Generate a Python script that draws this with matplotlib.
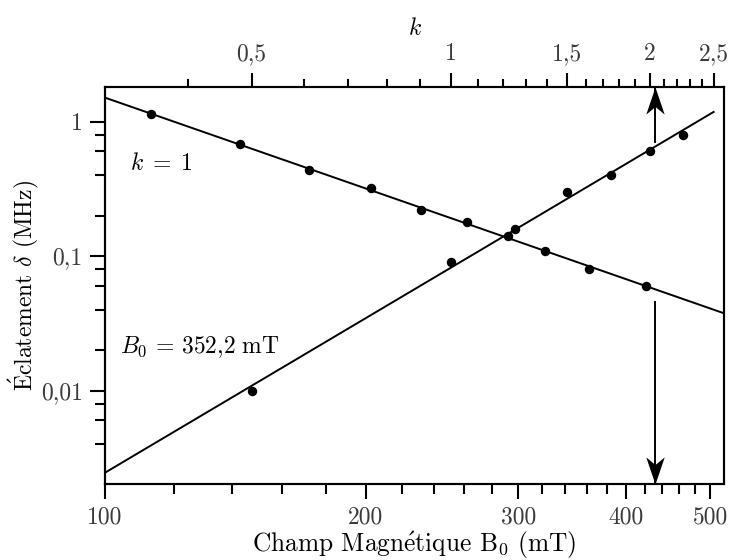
import numpy as np
import matplotlib
matplotlib.use("Agg")
import matplotlib.pyplot as plt
from matplotlib.path import Path
from matplotlib.ticker import FixedLocator, FixedFormatter, NullFormatter

plt.rcParams['font.family'] = ['cmr10', 'DejaVu Serif']
plt.rcParams['mathtext.fontset'] = 'cm'
plt.rcParams['axes.unicode_minus'] = False

# --- data: splitting vs field at k = 1 (bottom axis)
B_k1 = [113, 143, 172, 203, 232, 262, 292, 322, 362, 422]
delta_k1 = [1.13, 0.68, 0.44, 0.32, 0.22, 0.18, 0.14, 0.11, 0.08, 0.06]
# --- data: splitting vs k at B0 = 352.2 mT (top axis)
k_B = [0.5, 1.0, 1.25, 1.5, 1.75, 2.0, 2.25]
delta_B = [0.010, 0.090, 0.16, 0.30, 0.40, 0.60, 0.80]

# axis ranges and ticks
B_lim = (100, 518.6)
k_lim = (0.30, 2.592)
d_lim = (0.00202, 1.80)
B_ticks = [100, 200, 300, 400, 500]
B_ticklabels = ['100', '200', '300', '400', '500']
B_minor = [120, 140, 160, 180, 220, 240, 260, 280, 320, 340, 360, 380, 420, 440, 460, 480, 520]
k_ticks = [0.5, 1, 1.5, 2, 2.5]
k_ticklabels = ['0,5', '1', '1,5', '2', '2,5']
k_minor = [0.4, 0.6, 0.7, 0.8, 0.9, 1.1, 1.2, 1.3, 1.4, 1.6, 1.7, 1.8, 1.9, 2.1, 2.2, 2.3, 2.4]
d_ticks = [0.01, 0.1, 1]
d_ticklabels = ['0,01', '0,1', '1']
d_minor = [0.004, 0.006, 0.008, 0.02, 0.04, 0.06, 0.08, 0.2, 0.4, 0.6, 0.8]

B_arrow = 431.5
arrow_up_start = 0.71
arrow_down_start = 0.0459

fig = plt.figure(figsize=(7.32, 5.60), dpi=100)
ax = fig.add_axes([105/732, 1 - 484/560, 619/732, 396.7/560])
axt = ax.twiny()

lw_sp = 1.5
tick_col = '#3a3a3a'
fs = 17

# fits (log-log linear regression)
pB = np.polyfit(np.log10(B_k1), np.log10(delta_k1), 1)
Bf = np.geomspace(B_lim[0], B_lim[1], 50)
ax.plot(Bf, 10**np.polyval(pB, np.log10(Bf)), color='black', lw=1.4)
ax.plot(B_k1, delta_k1, 'o', color='black', ms=5.8)

pk = np.polyfit(np.log10(k_B), np.log10(delta_B), 1)
kf = np.geomspace(k_lim[0], 2.5, 50)
axt.plot(kf, 10**np.polyval(pk, np.log10(kf)), color='black', lw=1.4)
axt.plot(k_B, delta_B, 'o', color='black', ms=5.8)

for a in (ax, axt):
    a.set_yscale('log')
    a.set_ylim(*d_lim)
ax.set_xscale('log')
ax.set_xlim(*B_lim)
axt.set_xscale('log')
axt.set_xlim(*k_lim)

ax.xaxis.set_major_locator(FixedLocator(B_ticks))
ax.xaxis.set_major_formatter(FixedFormatter(B_ticklabels))
ax.xaxis.set_minor_locator(FixedLocator(B_minor))
ax.xaxis.set_minor_formatter(NullFormatter())
ax.yaxis.set_major_locator(FixedLocator(d_ticks))
ax.yaxis.set_major_formatter(FixedFormatter(d_ticklabels))
ax.yaxis.set_minor_locator(FixedLocator(d_minor))
ax.yaxis.set_minor_formatter(NullFormatter())
axt.xaxis.set_major_locator(FixedLocator(k_ticks))
axt.xaxis.set_major_formatter(FixedFormatter(k_ticklabels))
axt.xaxis.set_minor_locator(FixedLocator(k_minor))
axt.xaxis.set_minor_formatter(NullFormatter())

ax.tick_params(axis='both', which='major', direction='out', length=11, width=lw_sp,
               labelsize=fs, labelcolor=tick_col, pad=5)
ax.tick_params(axis='both', which='minor', direction='out', length=7, width=lw_sp)
ax.tick_params(axis='x', top=False)
ax.tick_params(axis='y', right=False)
axt.tick_params(axis='x', which='major', direction='out', length=10, width=lw_sp,
                labelsize=fs, labelcolor=tick_col, pad=6)
axt.tick_params(axis='x', which='minor', direction='out', length=6, width=lw_sp)
axt.tick_params(axis='y', left=False, right=False, labelleft=False, labelright=False)

for a in (ax, axt):
    for s in a.spines.values():
        s.set_linewidth(lw_sp)

ax.set_xlabel('Champ Magn$\\acute{\\mathrm{e}}$tique B$_0$ (mT)', fontsize=18.3)
ax.xaxis.set_label_coords(0.5, -0.115)
ax.set_ylabel('$\\acute{\\mathrm{E}}$clatement $\\delta$ (MHz)', fontsize=fs)
ax.yaxis.set_label_coords(-0.103, 0.5)
axt.set_xlabel('$k$', fontsize=fs, labelpad=6)

ax.text(0.040, 0.7915, '$k\\;=\\;1$', transform=ax.transAxes, fontsize=fs, ha='left', va='baseline')
ax.text(0.024, 0.330, '$B_0\\,=\\,352{,}2\\ \\mathrm{mT}$', transform=ax.transAxes, fontsize=fs,
        ha='left', va='baseline')

# arrows
head = Path([(0, 0), (-0.34, -1), (0, -0.72), (0.34, -1), (0, 0)],
            [Path.MOVETO, Path.LINETO, Path.LINETO, Path.LINETO, Path.CLOSEPOLY])
head_dn = Path([(0, 0), (-0.34, 1), (0, 0.72), (0.34, 1), (0, 0)],
               [Path.MOVETO, Path.LINETO, Path.LINETO, Path.LINETO, Path.CLOSEPOLY])
ax.plot([B_arrow, B_arrow], [arrow_up_start, d_lim[1]], color='black', lw=1.4, clip_on=False)
ax.plot([B_arrow], [d_lim[1]], marker=head, ms=39, color='black', mew=0, clip_on=False)
ax.plot([B_arrow, B_arrow], [arrow_down_start, d_lim[0]], color='black', lw=1.4, clip_on=False)
ax.plot([B_arrow], [d_lim[0]], marker=head_dn, ms=39, color='black', mew=0, clip_on=False)

fig.savefig('out.png', dpi=100)
